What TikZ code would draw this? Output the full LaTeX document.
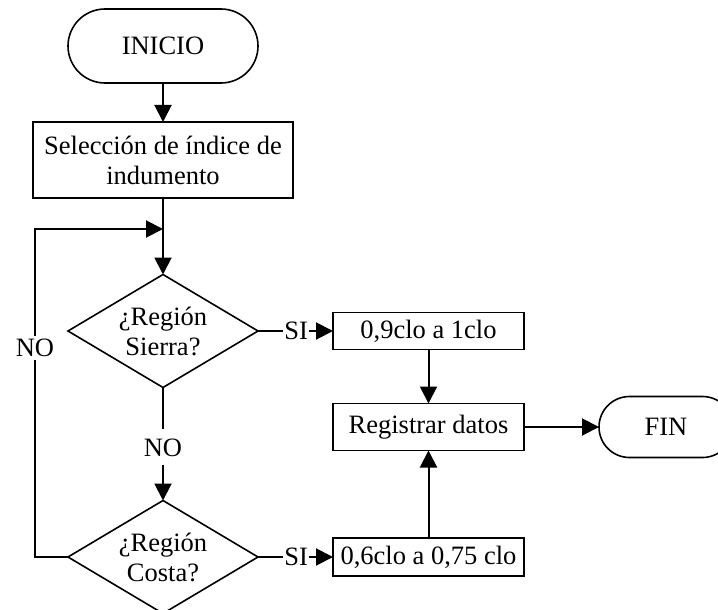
\documentclass[tikz,border=0pt]{standalone}
\usepackage{fontspec}
\setmainfont{Liberation Serif}
\usetikzlibrary{shapes.geometric,arrows.meta}
\begin{document}
\begin{tikzpicture}[x=1pt,y=-1pt,
  font=\fontsize{26.5}{30}\selectfont,
  every node/.style={inner sep=0pt, outer sep=0pt},
  shapeline/.style={line width=1.6pt},
  proc/.style={draw, shapeline, rectangle, align=center, minimum width=191pt},
  startstop/.style={draw, shapeline, rectangle},
  decision/.style={draw, shapeline, diamond, aspect=1.68, align=center,
                   minimum width=190pt, minimum height=113pt},
  flow/.style={line width=2pt, -{Triangle[length=17pt,width=17pt]}},
  plain/.style={line width=2pt},
  tag/.style={fill=white, inner xsep=1pt, inner ysep=3pt}
]
\useasboundingbox (0,0) rectangle (718,610);

% terminals
\node[startstop, minimum width=190pt, minimum height=74pt, rounded corners=37pt]
  (inicio) at (163,46) {INICIO};
\node[startstop, minimum width=134pt, minimum height=61pt, rounded corners=30.5pt]
  (fin) at (666,427) {FIN};

% process boxes
\node[proc, minimum width=260pt, minimum height=76pt] (sel) at (163,160)
  {Selección de índice de\\indumento};
\node[proc, minimum height=37pt] (sierraval) at (428.5,331) {0,9clo a 1clo};
\node[proc, minimum height=47pt] (reg) at (428.5,427) {Registrar datos};
\node[proc, minimum height=38pt] (costaval) at (428.5,557) {0,6clo a 0,75 clo};

% decisions
\node[decision] (sierra) at (163,331) {¿Región\\Sierra?};
\node[decision] (costa) at (163,557) {¿Región\\Costa?};

% connectors
\coordinate (join) at (163,229);
\coordinate (loopbot) at (35,557);
\coordinate (looptop) at (35,229);

\draw[flow] (inicio) -- (sel);
\draw[flow] (sel) -- (sierra);
\draw[flow] (costa.west) -- (loopbot)
  -- node[tag, pos=0.637] {NO} (looptop) -- (join);
\draw[flow] (sierra) -- node[tag, inner ysep=9pt, pos=0.53] {NO} (costa);
\draw[flow] (sierra.east) -- node[tag, pos=0.51] {SI} (sierraval.west);
\draw[flow] (costa.east) -- node[tag, pos=0.51] {SI} (costaval.west);
\draw[flow] (sierraval) -- (reg);
\draw[flow] (costaval) -- (reg);
\draw[flow] (reg) -- (fin);
\end{tikzpicture}
\end{document}
